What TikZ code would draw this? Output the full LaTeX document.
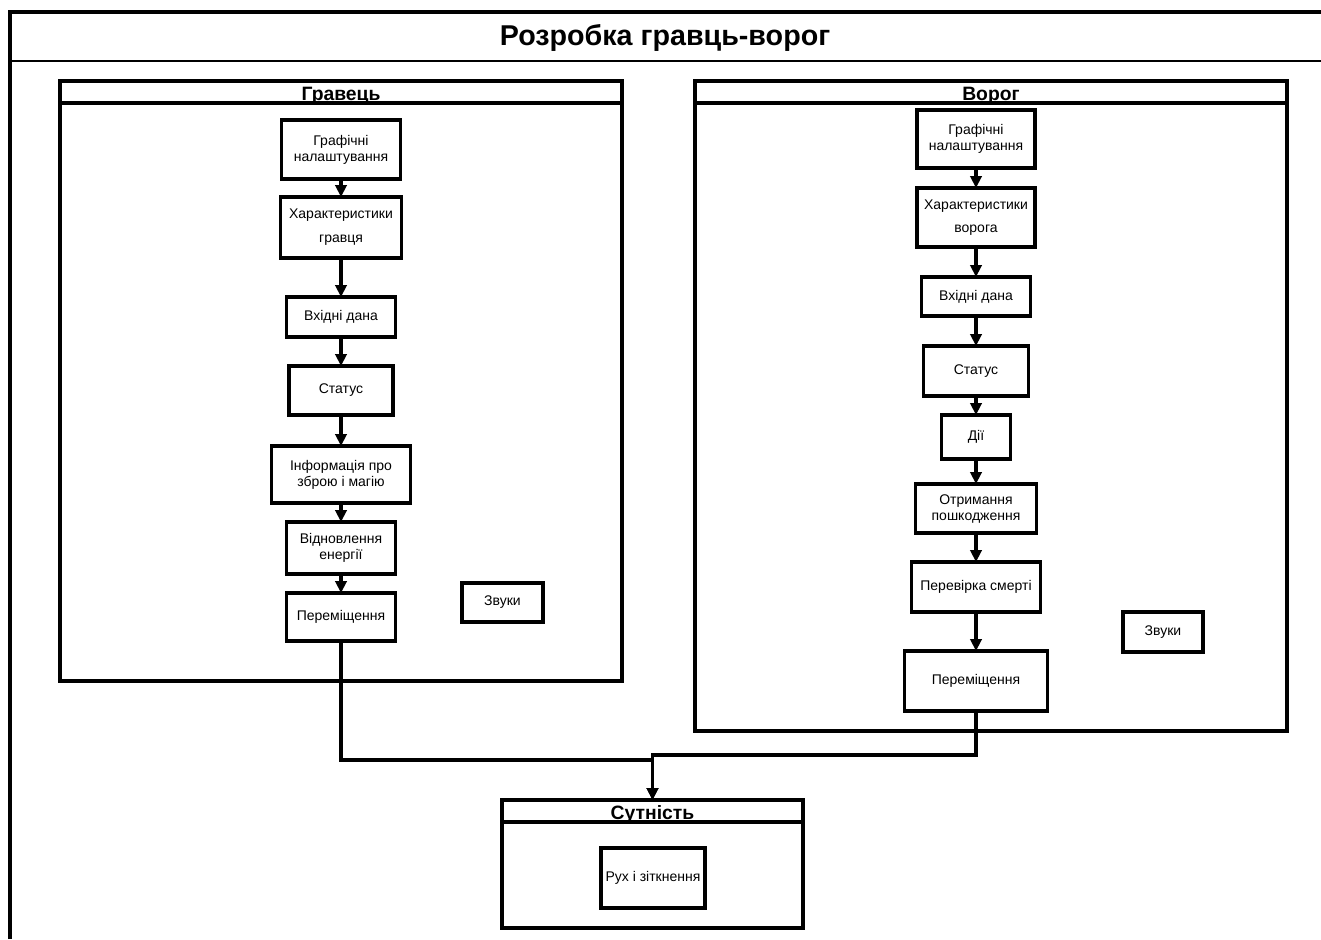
\documentclass[tikz,border=0pt]{standalone}
\usepackage{fontspec}
\setmainfont{Liberation Sans}
\usetikzlibrary{arrows.meta,positioning}

\tikzset{
  stepbox/.style={draw,line width=2.3pt,outer sep=0pt,align=center,inner sep=1pt,
    font=\fontsize{10.5}{12}\selectfont},
  lanehead/.style={draw,line width=2.3pt,outer sep=0pt,inner sep=0pt,anchor=north west,
    minimum height=16.5pt},
  lanetitle/.style={anchor=base,inner sep=0pt,yshift=2.2pt,font=\bfseries\fontsize{14.5}{16}\selectfont},
  lanebody/.style={draw,line width=2.3pt,outer sep=0pt,inner sep=0pt,anchor=north west},
  flow/.style={-{Triangle[length=9pt,width=8.5pt]},line width=2.3pt},
}

\begin{document}
\begin{tikzpicture}[x=0.75pt,y=-0.75pt]
\useasboundingbox (0,0) rectangle (1321,939);

% outer frame with title band
\draw[line width=2.3pt] (10,939) |- (1321,12);
\draw[line width=1.8pt] (10,61) -- (1321,61);
\node[font=\bfseries\fontsize{21.5}{24}\selectfont] (title) at (665,38) {Розробка гравць-ворог};

% lanes
\node[lanebody,minimum width=421.5pt,minimum height=450pt] (pbody) at (60,81) {};
\node[lanehead,minimum width=421.5pt] (phead) at (60,81) {};
\node[lanetitle] (plabel) at (phead.south) {Гравець};
\node[lanebody,minimum width=444pt,minimum height=487.5pt] (ebody) at (695,81) {};
\node[lanehead,minimum width=444pt] (ehead) at (695,81) {};
\node[lanetitle] (elabel) at (ehead.south) {Ворог};
\node[lanebody,minimum width=225.75pt,minimum height=96pt] (sbody) at (502,800) {};
\node[lanehead,minimum width=225.75pt] (shead) at (502,800) {};
\node[lanetitle] (slabel) at (shead.south) {Сутність};

% player column
\node[stepbox,minimum width=89.25pt,minimum height=44.25pt] (pgfx) at (341,149.5) {Графічні\\налаштування};
\node[stepbox,below=13.5pt of pgfx,minimum width=90.75pt,minimum height=45.75pt] (pchar) {Характеристики\\[6pt]гравця};
\node[stepbox,below=29.25pt of pchar,minimum width=81.75pt,minimum height=30pt] (pinput) {Вхідні дана};
\node[stepbox,below=21.75pt of pinput,minimum width=78pt,minimum height=36.75pt] (pstat) {Статус};
\node[stepbox,below=23.25pt of pstat,minimum width=104.25pt,minimum height=42.75pt] (pinfo) {Інформація про\\зброю і магію};
\node[stepbox,below=14.25pt of pinfo,minimum width=81.75pt,minimum height=39pt] (pener) {Відновлення\\енергії};
\node[stepbox,below=14.25pt of pener,minimum width=81.75pt,minimum height=36pt] (pmove) {Переміщення};
\node[stepbox,minimum width=60.75pt,minimum height=29.25pt] (psound) at (502.5,602.5) {Звуки};

% enemy column
\node[stepbox,minimum width=88.5pt,minimum height=43.5pt] (egfx) at (976,139) {Графічні\\налаштування};
\node[stepbox,below=15pt of egfx,minimum width=88.5pt,minimum height=44.25pt] (echar) {Характеристики\\[5pt]ворога};
\node[stepbox,below=22.5pt of echar,minimum width=81.75pt,minimum height=29.25pt] (einput) {Вхідні дана};
\node[stepbox,below=22.5pt of einput,minimum width=78.75pt,minimum height=37.5pt] (estat) {Статус};
\node[stepbox,below=14.25pt of estat,minimum width=51.75pt,minimum height=33pt] (eact) {Дії};
\node[stepbox,below=18.75pt of eact,minimum width=90.75pt,minimum height=36.75pt] (edmg) {Отримання\\пошкодження};
\node[stepbox,below=21.75pt of edmg,minimum width=96.75pt,minimum height=37.5pt] (edeath) {Перевірка смерті};
\node[stepbox,below=29.25pt of edeath,minimum width=107.25pt,minimum height=45pt] (emove) {Переміщення};
\node[stepbox,minimum width=60pt,minimum height=30pt] (esound) at (1163,632) {Звуки};

% entity
\node[stepbox,minimum width=78pt,minimum height=45pt] (collide) at (653,878) {Рух і зіткнення};

% arrows
\foreach \a/\b in {pgfx/pchar,pchar/pinput,pinput/pstat,pstat/pinfo,pinfo/pener,pener/pmove,
  egfx/echar,echar/einput,einput/estat,estat/eact,eact/edmg,edmg/edeath,edeath/emove}
  \draw[flow] (\a) -- (\b);

\coordinate (pbend) at (341,760);
\coordinate (ebend) at (976,755);
\draw[flow] (pmove) -- (pbend) -| (shead.north);
\draw[flow] (emove) -- (ebend) -| (shead.north);
\end{tikzpicture}
\end{document}
